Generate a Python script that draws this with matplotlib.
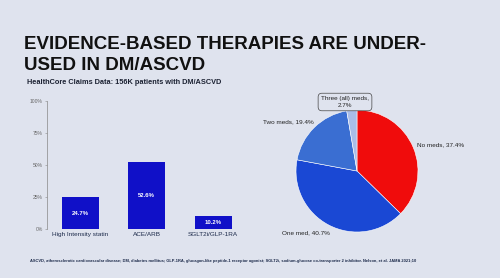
import matplotlib
matplotlib.use('Agg')
import matplotlib.pyplot as plt

plt.rcParams['font.family'] = ['Liberation Sans', 'DejaVu Sans']

# bar chart data
therapies = ['High Intensity statin', 'ACE/ARB', 'SGLT2i/GLP-1RA']
usage = [24.7, 52.6, 10.2]
yticks = [0, 25, 50, 75, 100]

# pie chart data
med_groups = ['No meds', 'One med', 'Two meds', 'Three (all) meds']
med_share = [37.4, 40.7, 19.4, 2.7]
pie_colors = ['#f00c0c', '#1a48d4', '#3a6ed2', '#a9bde8']

W, H = 500, 278
bg = '#dfe3ee'
fig = plt.figure(figsize=(W / 100, H / 100), dpi=100)
fig.patch.set_facecolor(bg)

def px(x, y):
    return x / W, 1 - y / H

# titles
title_kw = dict(fontsize=13.5, fontweight='bold', color='#111111', va='baseline')
fig.text(*px(24, 49), 'EVIDENCE-BASED THERAPIES ARE UNDER-', **title_kw)
fig.text(*px(24, 70), 'USED IN DM/ASCVD', **title_kw)
fig.text(*px(27, 83), 'HealthCore Claims Data: 156K patients with DM/ASCVD',
         fontsize=5.3, fontweight='bold', color='#1c2233', va='center')

# bar chart
ax = fig.add_axes([47 / W, 1 - 229 / H, (246.5 - 47) / W, (229 - 101) / H])
ax.set_facecolor(bg)
bars = ax.bar(range(len(therapies)), usage, width=0.56, color='#1010c8')
for b, v in zip(bars, usage):
    ax.text(b.get_x() + b.get_width() / 2, v / 2, f'{v}%', ha='center',
            va='center', color='white', fontsize=4.3, fontweight='bold')
ax.set_xlim(-0.5, 2.5)
ax.set_ylim(0, 100)
ax.set_yticks(yticks)
ax.set_yticklabels([f'{t}%' for t in yticks])
ax.set_xticks(range(len(therapies)))
ax.set_xticklabels(therapies)
ax.tick_params(axis='y', labelsize=3.6, labelcolor='#666666', length=1.5,
               width=0.4, color='#888888', pad=1.5)
ax.tick_params(axis='x', labelsize=4.6, labelcolor='#1c2a4a', length=0, pad=2)
for s in ['top', 'right', 'bottom']:
    ax.spines[s].set_visible(False)
ax.spines['left'].set_linewidth(0.5)
ax.spines['left'].set_color('#888888')

# pie chart
pax = fig.add_axes([296 / W, 1 - 232 / H, 122 / W, 122 / H])
pax.pie(med_share, colors=pie_colors, startangle=90, counterclock=False,
        wedgeprops=dict(edgecolor='white', linewidth=0.4))
pax.set_xlim(-1, 1)
pax.set_ylim(-1, 1)
pax.set_aspect('equal')

lab_kw = dict(fontsize=4.6, color='#222222', va='center')
fig.text(*px(417, 145), f'{med_groups[0]}, {med_share[0]}%', ha='left', **lab_kw)
fig.text(*px(282, 233), f'{med_groups[1]}, {med_share[1]}%', ha='left', **lab_kw)
fig.text(*px(263, 122), f'{med_groups[2]}, {med_share[2]}%', ha='left', **lab_kw)
fig.text(*px(345, 102), f'{med_groups[3]},\n{med_share[3]}%', ha='center',
         linespacing=1.45,
         bbox=dict(boxstyle='round,pad=0.45,rounding_size=0.6', fc=bg,
                   ec='#444444', lw=0.5), **lab_kw)

# footnote
fig.text(*px(30, 261),
         'ASCVD, atherosclerotic cardiovascular disease; DM, diabetes mellitus; '
         'GLP-1RA, glucagon-like peptide-1 receptor agonist; SGLT2i, '
         'sodium-glucose co-transporter 2 inhibitor. Nelson, et al. JAMA 2021;10',
         fontsize=2.9, fontweight='bold', color='#1c2a4a', va='center')

fig.savefig('out.png', dpi=100, facecolor=bg)
